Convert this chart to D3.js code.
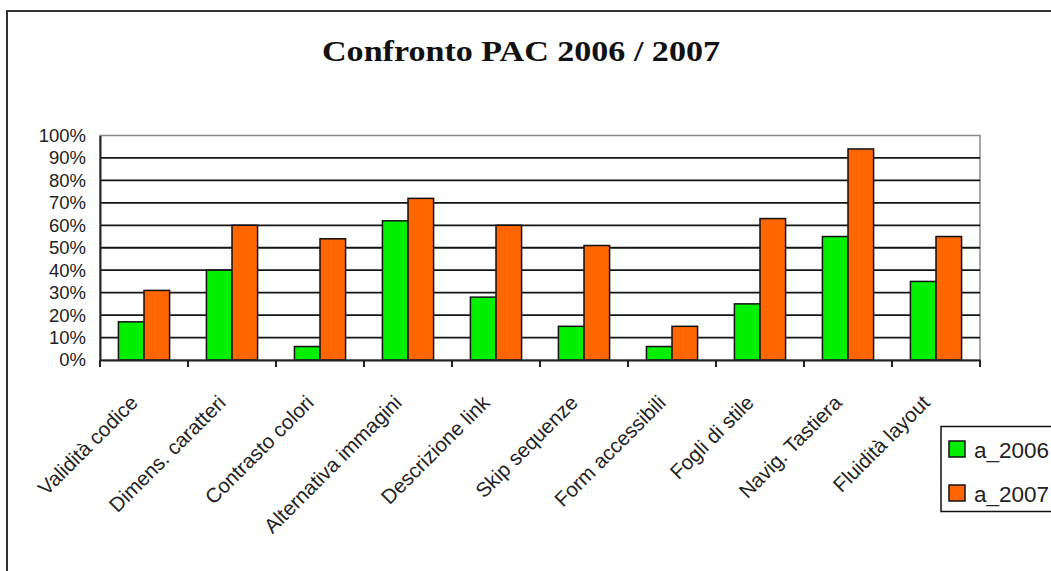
<!DOCTYPE html>
<html>
<head>
<meta charset="utf-8">
<script src="https://cdn.jsdelivr.net/npm/d3@7"></script>
<style>
  html, body { margin: 0; padding: 0; background: #fff; }
  svg { display: block; }
</style>
</head>
<body>
<svg id="chart" width="1051" height="571"></svg>
<script>
const categories = ["Validità codice", "Dimens. caratteri", "Contrasto colori", "Alternativa immagini", "Descrizione link", "Skip sequenze", "Form accessibili", "Fogli di stile", "Navig. Tastiera", "Fluidità layout"];
const seriesNames = ["a_2006", "a_2007"];
const a_2006 = [0.17, 0.40, 0.06, 0.62, 0.28, 0.15, 0.06, 0.25, 0.55, 0.35];
const a_2007 = [0.31, 0.60, 0.54, 0.72, 0.60, 0.51, 0.15, 0.63, 0.94, 0.55];
const yTicks = [0, 0.1, 0.2, 0.3, 0.4, 0.5, 0.6, 0.7, 0.8, 0.9, 1.0];
const titleText = "Confronto PAC 2006 / 2007";
const colors = ["#00F000", "#FF6600"];

const svg = d3.select("#chart");

// outer chart border
svg.append("rect").attr("x", 7).attr("y", 11).attr("width", 1100).attr("height", 600)
  .attr("fill", "#fff").attr("stroke", "#333").attr("stroke-width", 2);

// title
svg.append("text").attr("x", 521).attr("y", 61).attr("text-anchor", "middle")
  .attr("font-family", "'Liberation Serif', 'DejaVu Serif', serif").attr("font-weight", "bold")
  .attr("font-size", 29).attr("fill", "#111")
  .attr("textLength", 398).attr("lengthAdjust", "spacingAndGlyphs")
  .text(titleText);

const pLeft = 100, pRight = 980, pTop = 135.5, pBottom = 360;
const x = d3.scaleBand().domain(categories).range([pLeft, pRight]).padding(0);
const x1 = d3.scaleBand().domain(seriesNames).range([0, x.bandwidth()]).paddingInner(0).paddingOuter(0.72);
const y = d3.scaleLinear().domain([0, 1]).range([pBottom, pTop]);

// plot area border (gray top/right)
svg.append("rect").attr("x", pLeft).attr("y", pTop).attr("width", pRight - pLeft).attr("height", pBottom - pTop)
  .attr("fill", "#fff").attr("stroke", "#8a8a8a").attr("stroke-width", 1.5);

// gridlines
svg.append("g").selectAll("line").data(yTicks.filter(t => t > 0 && t < 1)).join("line")
  .attr("x1", pLeft).attr("x2", pRight).attr("y1", d => y(d)).attr("y2", d => y(d))
  .attr("stroke", "#151515").attr("stroke-width", 1.8);

// bars
const data = categories.map((c, i) => ({ c, vals: [a_2006[i], a_2007[i]] }));
const groups = svg.append("g").selectAll("g").data(data).join("g")
  .attr("transform", d => `translate(${x(d.c)},0)`);
groups.selectAll("rect").data(d => d.vals.map((v, j) => ({ v, s: seriesNames[j], j }))).join("rect")
  .attr("x", d => x1(d.s)).attr("width", x1.bandwidth())
  .attr("y", d => y(d.v)).attr("height", d => y(0) - y(d.v))
  .attr("fill", d => colors[d.j]).attr("stroke", "#111").attr("stroke-width", 1.5);

// y axis
const yAxis = d3.axisLeft(y).tickValues(yTicks).tickFormat(d3.format(".0%")).tickSize(0).tickPadding(14);
const yg = svg.append("g").attr("transform", `translate(${pLeft},0)`).call(yAxis);
yg.select(".domain").attr("stroke", "#222").attr("stroke-width", 2);
yg.selectAll("text").attr("font-family", "'Liberation Sans', Arial, sans-serif").attr("font-size", 18.5).attr("fill", "#222");

// x axis
const xAxis = d3.axisBottom(x).tickSize(0).tickFormat("");
const xg = svg.append("g").attr("transform", `translate(0,${pBottom})`).call(xAxis);
xg.select(".domain").attr("stroke", "#222").attr("stroke-width", 2);
const boundaries = categories.map(c => x(c)).concat([pRight]);
svg.append("g").selectAll("line").data(boundaries).join("line")
  .attr("x1", d => d).attr("x2", d => d).attr("y1", pBottom).attr("y2", pBottom + 7)
  .attr("stroke", "#222").attr("stroke-width", 2);

// category labels
svg.append("g").selectAll("text").data(categories).join("text")
  .attr("transform", d => `translate(${x(d) + x.bandwidth() / 2 - 5},${pBottom + 44}) rotate(-45)`)
  .attr("text-anchor", "end")
  .attr("font-family", "'Liberation Sans', Arial, sans-serif").attr("font-size", 20.5).attr("fill", "#222")
  .text(d => d);

// legend
const lg = svg.append("g");
lg.append("rect").attr("x", 941).attr("y", 426.5).attr("width", 130).attr("height", 85)
  .attr("fill", "#fff").attr("stroke", "#111").attr("stroke-width", 1.5);
const li = lg.selectAll("g").data(seriesNames).join("g")
  .attr("transform", (d, i) => `translate(949,${441 + i * 44})`);
li.append("rect").attr("width", 16).attr("height", 16)
  .attr("fill", (d, i) => colors[i]).attr("stroke", "#111").attr("stroke-width", 1.5);
li.append("text").attr("x", 25).attr("y", 16.5)
  .attr("font-family", "'Liberation Sans', Arial, sans-serif").attr("font-size", 22.5).attr("fill", "#222")
  .text(d => d);
</script>
</body>
</html>
